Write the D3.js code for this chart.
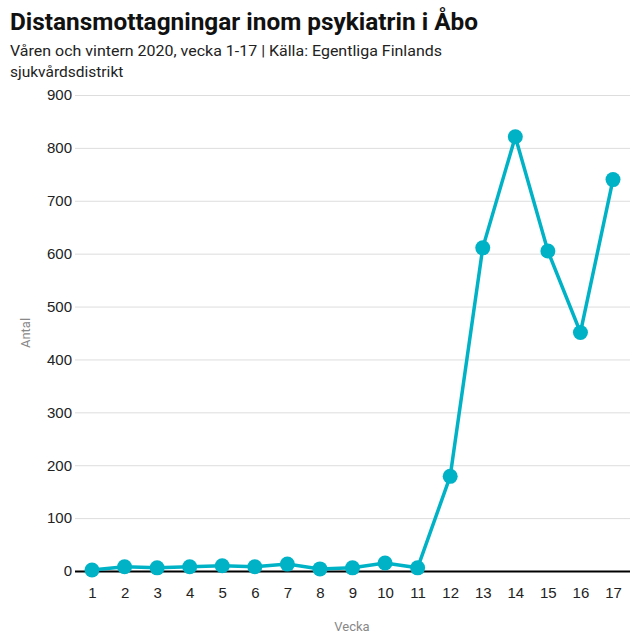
<!DOCTYPE html>
<html><head><meta charset="utf-8">
<script src="https://cdn.jsdelivr.net/npm/d3@7"></script>
<style>body{margin:0;background:#fff;font-family:Roboto,"Noto Sans",sans-serif}</style>
</head><body>
<svg id="c" width="640" height="640"></svg>
<script>
const weeks = [1,2,3,4,5,6,7,8,9,10,11,12,13,14,15,16,17];
const values = [2,8,6,8,10,8,13,4,6,15,6,179,611,821,605,451,740];
const yTicks = [0,100,200,300,400,500,600,700,800,900];
const title = "Distansmottagningar inom psykiatrin i Åbo";
const subtitle1 = "Våren och vintern 2020, vecka 1-17 | Källa: Egentliga Finlands";
const subtitle2 = "sjukvårdsdistrikt";

const svg = d3.select("#c");
const x = d3.scaleLinear().domain([1,17]).range([92,613]);
const y = d3.scaleLinear().domain([0,900]).range([571,95]);

svg.append("text").attr("x",10).attr("y",30).attr("font-size",24).attr("font-weight","bold")
  .attr("textLength",468).attr("lengthAdjust","spacingAndGlyphs")
  .attr("fill","#111").text(title);
svg.append("text").attr("x",10).attr("y",56).attr("font-size",15.5).attr("textLength",432).attr("lengthAdjust","spacingAndGlyphs").attr("fill","#222").text(subtitle1);
svg.append("text").attr("x",10).attr("y",77).attr("font-size",15.5).attr("fill","#222").text(subtitle2);

const yAxis = svg.append("g")
  .call(d3.axisLeft(y).tickValues(yTicks).tickSize(0).tickPadding(0));
yAxis.select(".domain").remove();
yAxis.selectAll("text").attr("x",72).attr("font-size",15).attr("fill","#222");
yAxis.selectAll(".tick").append("line").attr("x1",75).attr("x2",630)
  .attr("stroke",d=>d===0?"#000":"#ddd").attr("stroke-width",d=>d===0?2:1);

const xAxis = svg.append("g").attr("transform","translate(0,571)")
  .call(d3.axisBottom(x).tickValues(weeks).tickFormat(d3.format("d")).tickSize(0).tickPadding(16));
xAxis.select(".domain").remove();
xAxis.selectAll("text").attr("font-size",15).attr("fill","#222");

svg.append("text").attr("x",352).attr("y",631).attr("text-anchor","middle").attr("font-size",13).attr("fill","#888").text("Vecka");
svg.append("text").attr("transform","translate(30,333) rotate(-90)").attr("text-anchor","middle").attr("font-size",13).attr("fill","#888").text("Antal");

const data = weeks.map((w,i)=>({w,v:values[i]}));
svg.append("path").datum(data).attr("fill","none").attr("stroke","#00b2c6").attr("stroke-width",3.5)
  .attr("d",d3.line().x(d=>x(d.w)).y(d=>y(d.v)));
svg.selectAll("circle").data(data).join("circle").attr("cx",d=>x(d.w)).attr("cy",d=>y(d.v)).attr("r",7.5).attr("fill","#00b2c6");
</script>
</body></html>
